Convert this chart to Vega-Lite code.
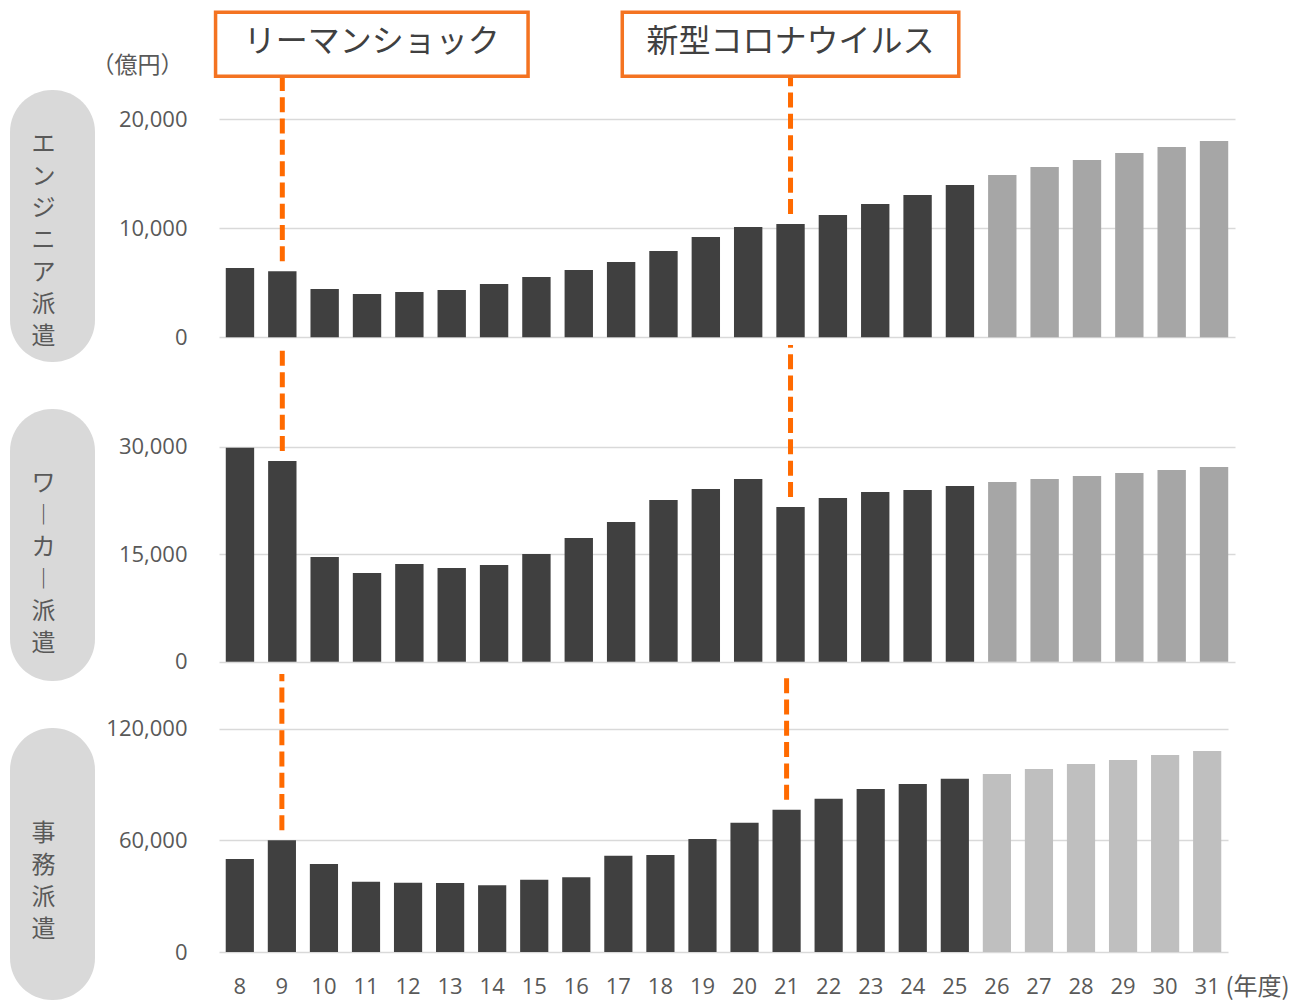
{
  "$schema": "https://vega.github.io/schema/vega-lite/v6.json",
  "background": "white",
  "padding": {"left": 10, "top": 10, "right": 0, "bottom": 0},
  "config": {
    "view": {"stroke": null},
    "font": "Noto Sans CJK JP",
    "axis": {"ticks": false, "tickSize": 0, "domain": false, "labelColor": "#595959", "labelFont": "Open Sans", "labelFontSize": 22, "titleColor": "#595959", "titleFont": "Noto Sans CJK JP", "titleFontWeight": "normal"},
    "axisY": {"grid": true, "gridColor": "#D9D9D9", "gridWidth": 1.5, "labelPadding": 32}
  },
  "datasets": {
    "labels": [{"name": "エンジニア派遣"}, {"name": "ワーカー派遣"}, {"name": "事務派遣"}],
    "events": [{"event": "リーマンショック", "year": 9}, {"event": "新型コロナウイルス", "year": 21}],
    "eng": [
      {"year": 8, "value": 6350, "kind": "実績"}, {"year": 9, "value": 6050, "kind": "実績"}, {"year": 10, "value": 4430, "kind": "実績"}, {"year": 11, "value": 3970, "kind": "実績"}, {"year": 12, "value": 4160, "kind": "実績"}, {"year": 13, "value": 4340, "kind": "実績"}, {"year": 14, "value": 4890, "kind": "実績"}, {"year": 15, "value": 5530, "kind": "実績"}, {"year": 16, "value": 6170, "kind": "実績"}, {"year": 17, "value": 6910, "kind": "実績"}, {"year": 18, "value": 7920, "kind": "実績"}, {"year": 19, "value": 9200, "kind": "実績"}, {"year": 20, "value": 10120, "kind": "実績"}, {"year": 21, "value": 10390, "kind": "実績"}, {"year": 22, "value": 11220, "kind": "実績"}, {"year": 23, "value": 12230, "kind": "実績"}, {"year": 24, "value": 13060, "kind": "実績"}, {"year": 25, "value": 13970, "kind": "実績"},
      {"year": 26, "value": 14890, "kind": "見通し"}, {"year": 27, "value": 15620, "kind": "見通し"}, {"year": 28, "value": 16270, "kind": "見通し"}, {"year": 29, "value": 16910, "kind": "見通し"}, {"year": 30, "value": 17460, "kind": "見通し"}, {"year": 31, "value": 18010, "kind": "見通し"}
    ],
    "wrk": [
      {"year": 8, "value": 29860, "kind": "実績"}, {"year": 9, "value": 28000, "kind": "実績"}, {"year": 10, "value": 14600, "kind": "実績"}, {"year": 11, "value": 12370, "kind": "実績"}, {"year": 12, "value": 13630, "kind": "実績"}, {"year": 13, "value": 13070, "kind": "実績"}, {"year": 14, "value": 13490, "kind": "実績"}, {"year": 15, "value": 15020, "kind": "実績"}, {"year": 16, "value": 17260, "kind": "実績"}, {"year": 17, "value": 19490, "kind": "実績"}, {"year": 18, "value": 22560, "kind": "実績"}, {"year": 19, "value": 24100, "kind": "実績"}, {"year": 20, "value": 25490, "kind": "実績"}, {"year": 21, "value": 21590, "kind": "実績"}, {"year": 22, "value": 22840, "kind": "実績"}, {"year": 23, "value": 23680, "kind": "実績"}, {"year": 24, "value": 23960, "kind": "実績"}, {"year": 25, "value": 24520, "kind": "実績"},
      {"year": 26, "value": 25070, "kind": "見通し"}, {"year": 27, "value": 25490, "kind": "見通し"}, {"year": 28, "value": 25910, "kind": "見通し"}, {"year": 29, "value": 26330, "kind": "見通し"}, {"year": 30, "value": 26750, "kind": "見通し"}, {"year": 31, "value": 27170, "kind": "見通し"}
    ],
    "off": [
      {"year": 8, "value": 49970, "kind": "実績"}, {"year": 9, "value": 60000, "kind": "実績"}, {"year": 10, "value": 47290, "kind": "実績"}, {"year": 11, "value": 37780, "kind": "実績"}, {"year": 12, "value": 37240, "kind": "実績"}, {"year": 13, "value": 37080, "kind": "実績"}, {"year": 14, "value": 35840, "kind": "実績"}, {"year": 15, "value": 38850, "kind": "実績"}, {"year": 16, "value": 40140, "kind": "実績"}, {"year": 17, "value": 51750, "kind": "実績"}, {"year": 18, "value": 52120, "kind": "実績"}, {"year": 19, "value": 60720, "kind": "実績"}, {"year": 20, "value": 69480, "kind": "実績"}, {"year": 21, "value": 76470, "kind": "実績"}, {"year": 22, "value": 82380, "kind": "実績"}, {"year": 23, "value": 87590, "kind": "実績"}, {"year": 24, "value": 90270, "kind": "実績"}, {"year": 25, "value": 93120, "kind": "実績"},
      {"year": 26, "value": 95650, "kind": "見通し"}, {"year": 27, "value": 98330, "kind": "見通し"}, {"year": 28, "value": 101020, "kind": "見通し"}, {"year": 29, "value": 103170, "kind": "見通し"}, {"year": 30, "value": 105860, "kind": "見通し"}, {"year": 31, "value": 108010, "kind": "見通し"}
    ]
  },
  "columns": 2,
  "bounds": "flush",
  "spacing": {"row": 47, "column": 124},
  "resolve": {"scale": {"color": "independent"}},
  "concat": [
    {
      "width": 85, "height": 272,
      "data": {"name": "labels"},
      "transform": [{"filter": "datum.name === 'エンジニア派遣'"}, {"calculate": "split(replace(datum.name, regexp('ー', 'g'), '︱'), '')", "as": "lines"}],
      "encoding": {
        "x": {"field": "name", "type": "nominal", "axis": null, "scale": {"paddingInner": 0, "paddingOuter": 0}},
        "y": {"field": "name", "type": "nominal", "axis": null, "scale": {"paddingInner": 0, "paddingOuter": 0}}
      },
      "layer": [
        {"mark": {"type": "rect", "cornerRadius": 42, "fill": "#D9D9D9"}},
        {"mark": {"type": "text", "fontSize": 24, "lineHeight": 32, "color": "#595959", "baseline": "middle", "dx": -9, "dy": -81.5}, "encoding": {"text": {"field": "lines"}}}
      ]
    },
    {
      "width": 1016, "height": 272,
      "layer": [
        {
          "data": {"name": "eng"},
          "mark": {"type": "bar"},
          "encoding": {
            "x": {"field": "year", "type": "ordinal", "axis": null, "scale": {"paddingInner": 0.33, "paddingOuter": 0.16}},
            "y": {"field": "value", "type": "quantitative", "scale": {"domain": [-2266, 22688], "nice": false, "zero": false},
                  "axis": {"values": [0, 10000, 20000], "format": ",.0f", "title": "（億円）", "titleAngle": 0, "titleX": -82, "titleY": -25, "titleAlign": "center", "titleBaseline": "middle", "titleFontSize": 23}},
            "color": {"field": "kind", "type": "nominal", "scale": {"domain": ["実績", "見通し"], "range": ["#404040", "#A6A6A6"]}, "legend": null}
          }
        },
        {
          "data": {"name": "eng"},
          "transform": [{"filter": {"field": "year", "oneOf": [9, 21]}}],
          "mark": {"type": "rule", "stroke": "#FF6A00", "strokeWidth": 5, "strokeDash": [15, 6.3], "yOffset": -10},
          "encoding": {"x": {"field": "year", "type": "ordinal"}, "y": {"field": "value", "type": "quantitative"}, "y2": {"datum": 23950}}
        },
        {
          "data": {"name": "events"},
          "transform": [{"filter": "datum.event === 'リーマンショック'"}],
          "layer": [
            {"mark": {"type": "bar", "width": 312.5, "xOffset": 89.5, "fill": "white", "stroke": "#F47321", "strokeWidth": 3.5},
             "encoding": {"x": {"field": "year", "type": "ordinal"}, "y": {"datum": 23950}, "y2": {"datum": 29820}}},
            {"mark": {"type": "text", "xOffset": 89.5, "fontSize": 32, "color": "#404040", "baseline": "middle"},
             "encoding": {"x": {"field": "year", "type": "ordinal"}, "y": {"datum": 27092}, "text": {"field": "event"}}}
          ]
        },
        {
          "data": {"name": "events"},
          "transform": [{"filter": "datum.event === '新型コロナウイルス'"}],
          "layer": [
            {"mark": {"type": "bar", "width": 336.5, "fill": "white", "stroke": "#F47321", "strokeWidth": 3.5},
             "encoding": {"x": {"field": "year", "type": "ordinal"}, "y": {"datum": 23950}, "y2": {"datum": 29820}}},
            {"mark": {"type": "text", "fontSize": 32, "color": "#404040", "baseline": "middle"},
             "encoding": {"x": {"field": "year", "type": "ordinal"}, "y": {"datum": 27092}, "text": {"field": "event"}}}
          ]
        }
      ]
    },
    {
      "width": 85, "height": 272,
      "data": {"name": "labels"},
      "transform": [{"filter": "datum.name === 'ワーカー派遣'"}, {"calculate": "split(replace(datum.name, regexp('ー', 'g'), '︱'), '')", "as": "lines"}],
      "encoding": {
        "x": {"field": "name", "type": "nominal", "axis": null, "scale": {"paddingInner": 0, "paddingOuter": 0}},
        "y": {"field": "name", "type": "nominal", "axis": null, "scale": {"paddingInner": 0, "paddingOuter": 0}}
      },
      "layer": [
        {"mark": {"type": "rect", "cornerRadius": 42, "fill": "#D9D9D9"}},
        {"mark": {"type": "text", "fontSize": 24, "lineHeight": 32, "color": "#595959", "baseline": "middle", "dx": -9, "dy": -61.5}, "encoding": {"text": {"field": "lines"}}}
      ]
    },
    {
      "width": 1016, "height": 272,
      "data": {"name": "wrk"},
      "layer": [
        {
          "mark": {"type": "bar"},
          "encoding": {
            "x": {"field": "year", "type": "ordinal", "axis": null, "scale": {"paddingInner": 0.33, "paddingOuter": 0.16}},
            "y": {"field": "value", "type": "quantitative", "scale": {"domain": [-2693, 35260], "nice": false, "zero": false},
                  "axis": {"values": [0, 15000, 30000], "format": ",.0f", "title": null}},
            "color": {"field": "kind", "type": "nominal", "scale": {"domain": ["実績", "見通し"], "range": ["#404040", "#A6A6A6"]}, "legend": null}
          }
        },
        {
          "transform": [{"filter": {"field": "year", "oneOf": [9, 21]}}],
          "mark": {"type": "rule", "stroke": "#FF6A00", "strokeWidth": 5, "strokeDash": [15, 6.3], "yOffset": -10},
          "encoding": {"x": {"field": "year", "type": "ordinal"}, "y": {"field": "value", "type": "quantitative"}, "y2": {"datum": 44191}}
        }
      ]
    },
    {
      "width": 85, "height": 272,
      "data": {"name": "labels"},
      "transform": [{"filter": "datum.name === '事務派遣'"}, {"calculate": "split(replace(datum.name, regexp('ー', 'g'), '︱'), '')", "as": "lines"}],
      "encoding": {
        "x": {"field": "name", "type": "nominal", "axis": null, "scale": {"paddingInner": 0, "paddingOuter": 0}},
        "y": {"field": "name", "type": "nominal", "axis": null, "scale": {"paddingInner": 0, "paddingOuter": 0}}
      },
      "layer": [
        {"mark": {"type": "rect", "cornerRadius": 42, "fill": "#D9D9D9"}},
        {"mark": {"type": "text", "fontSize": 24, "lineHeight": 32, "color": "#595959", "baseline": "middle", "dx": -9, "dy": -30}, "encoding": {"text": {"field": "lines"}}}
      ]
    },
    {
      "width": 1009, "height": 272,
      "data": {"name": "off"},
      "layer": [
        {
          "mark": {"type": "bar"},
          "encoding": {
            "x": {"field": "year", "type": "ordinal", "scale": {"paddingInner": 0.33, "paddingOuter": 0.16},
                  "axis": {"labelAngle": 0, "labelPadding": 24, "offset": -48, "title": "(年度)", "titleX": 1006, "titleY": 35, "titleAlign": "left", "titleBaseline": "middle", "titleFontSize": 24}},
            "y": {"field": "value", "type": "quantitative", "scale": {"domain": [-25795, 120378], "nice": false, "zero": false},
                  "axis": {"values": [0, 60000, 120000], "format": ",.0f", "title": null}},
            "color": {"field": "kind", "type": "nominal", "scale": {"domain": ["実績", "見通し"], "range": ["#404040", "#BFBFBF"]}, "legend": null}
          }
        },
        {
          "transform": [{"filter": {"field": "year", "oneOf": [9, 21]}}],
          "mark": {"type": "rule", "stroke": "#FF6A00", "strokeWidth": 5, "strokeDash": [15, 6.3], "yOffset": -10},
          "encoding": {"x": {"field": "year", "type": "ordinal"}, "y": {"field": "value", "type": "quantitative"}, "y2": {"datum": 149398}}
        }
      ]
    }
  ]
}
